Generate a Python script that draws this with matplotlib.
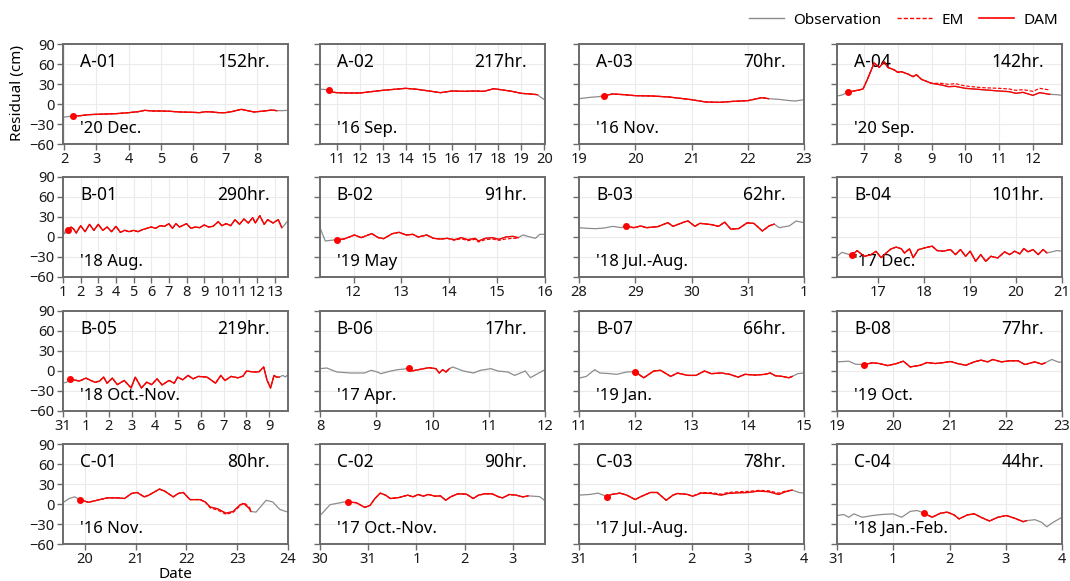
import matplotlib
matplotlib.use("Agg")
import matplotlib.pyplot as plt
from matplotlib.lines import Line2D

plt.rcParams['font.family'] = ['Noto Sans', 'DejaVu Sans']

# ---- data (x in days, y in cm) ----
# each panel: observation before the run, DAM run, observation after; EM where it differs
a01_pre = [(1.96, -20), (2.1, -19)]
a01_dam = [(2.26, -18), (2.5, -17.5), (2.75, -16), (3.0, -15.5), (3.3, -15), (3.6, -14.5), (4.0, -13),
           (4.3, -11.5), (4.5, -9.5), (4.75, -10.5), (5.0, -10.5), (5.3, -11), (5.6, -12), (6.0, -12.5),
           (6.2, -13), (6.4, -11.5), (6.6, -12), (6.8, -13), (7.0, -13), (7.2, -11.5), (7.5, -8), (7.7, -10),
           (7.9, -12), (8.1, -11), (8.3, -10), (8.45, -9), (8.6, -10)]
a01_post = [(8.75, -10), (8.95, -9.5)]

a02_pre = [(10.28, 22), (10.45, 22)]
a02_dam = [(10.66, 20.5), (10.8, 18), (11.0, 17), (11.5, 16.5), (12.0, 16.5), (12.5, 18.5), (13.0, 20.5),
           (13.5, 22), (14.0, 23.5), (14.5, 22), (15.0, 19.5), (15.5, 17), (16.0, 19.5), (16.5, 19),
           (17.0, 19.5), (17.4, 19), (17.8, 23), (18.2, 21), (18.6, 19), (19.0, 16), (19.4, 15), (19.7, 14)]
a02_post = [(19.85, 10), (20.03, 6)]

a03_pre = [(19.0, 8), (19.2, 10), (19.35, 11)]
a03_dam = [(19.45, 12.5), (19.6, 15), (19.8, 14), (20.0, 12.5), (20.3, 12), (20.6, 10.5), (21.0, 6.5),
           (21.25, 3), (21.5, 2.5), (21.75, 4), (22.0, 5), (22.25, 9.5), (22.37, 8)]
a03_post = [(22.55, 7), (22.75, 5), (22.85, 4.5), (23.0, 6.5)]

a04_pre = [(6.2, 12), (6.35, 13.5)]
a04_dam = [(6.53, 18), (6.8, 20.5), (6.97, 22.5), (7.1, 37), (7.3, 61.5), (7.45, 55), (7.6, 63.5), (7.7, 55),
           (7.9, 51), (8.0, 47.5), (8.1, 48.5), (8.3, 45), (8.45, 41), (8.55, 44), (8.7, 37), (9.0, 31),
           (9.3, 28.5), (9.5, 26), (9.7, 26.5), (10.0, 23.5), (10.5, 21.5), (11.0, 19.5), (11.3, 18.5),
           (11.5, 16), (11.7, 17.5), (12.0, 13), (12.2, 17), (12.5, 14.5)]
a04_em = [(6.53, 18), (6.8, 20.5), (6.97, 22.5), (7.1, 37), (7.3, 61.5), (7.45, 55), (7.6, 63.5), (7.7, 55),
          (7.9, 51), (8.0, 47.5), (8.1, 48.5), (8.3, 45), (8.45, 41), (8.55, 44), (8.7, 37), (9.0, 31),
          (9.3, 31), (9.5, 29.5), (9.7, 30.5), (10.0, 27), (10.5, 24.5), (11.0, 23.5), (11.3, 22.5),
          (11.5, 20.5), (11.7, 21.5), (12.0, 19), (12.2, 23.5), (12.5, 21)]
a04_post = [(12.7, 14), (12.86, 13)]

b01_pre = [(1.0, 12), (1.1, 5)]
b01_dam = [(1.3, 10), (1.45, 15), (1.6, 12), (1.75, 6), (2.0, 17), (2.25, 8), (2.5, 19), (2.75, 10), (3.0, 19),
           (3.25, 10), (3.5, 15), (3.75, 8), (4.0, 16), (4.25, 7), (4.5, 10), (4.75, 8), (5.0, 10), (5.25, 8),
           (5.5, 11), (5.75, 13), (6.0, 15), (6.25, 13), (6.5, 17), (6.75, 16), (7.0, 20), (7.2, 13), (7.4, 20),
           (7.6, 15), (8.0, 20), (8.25, 13), (8.5, 15), (8.75, 14), (9.0, 18), (9.25, 15), (9.5, 16), (9.8, 23),
           (10.0, 17), (10.25, 20), (10.5, 17), (10.75, 26), (11.0, 19), (11.25, 27), (11.5, 21), (11.75, 29),
           (11.9, 21), (12.15, 32), (12.4, 19), (12.6, 26), (12.9, 21), (13.2, 26), (13.4, 14)]
b01_post = [(13.55, 18), (13.75, 25)]

b02_pre = [(11.3, 14), (11.41, -6), (11.52, -5)]
b02_dam = [(11.65, -4), (11.8, -3), (12.02, 3), (12.16, -1), (12.38, 5), (12.52, -1), (12.63, -2.5), (12.81, 5),
           (12.95, 7), (13.1, 3), (13.24, 4), (13.35, 0), (13.53, 3), (13.67, -2), (13.82, -3), (13.96, -2),
           (14.11, -4), (14.25, -1), (14.39, -4), (14.54, -2), (14.61, -6), (14.75, -2), (14.9, -1),
           (15.04, -3.5), (15.18, 0), (15.33, 1), (15.44, -1)]
b02_em = [(11.65, -4), (11.8, -3), (12.02, 3), (12.16, -1), (12.38, 5), (12.52, -1), (12.63, -2.5), (12.81, 5),
          (12.95, 7), (13.1, 3), (13.24, 4), (13.35, 0), (13.53, 3), (13.67, -2), (13.82, -3), (13.96, -2),
          (14.11, -5), (14.25, -2.5), (14.39, -5.5), (14.54, -3.5), (14.61, -7.5), (14.75, -4), (14.9, -3),
          (15.04, -5), (15.18, -3), (15.33, -2), (15.44, -2)]
b02_post = [(15.54, 3), (15.69, 0), (15.8, -2), (15.89, 4), (16.0, 4)]

b03_pre = [(28.0, 14), (28.15, 13), (28.3, 12.5), (28.45, 13.5), (28.6, 16), (28.75, 14)]
b03_dam = [(28.84, 16.5), (28.97, 14), (29.1, 16.5), (29.2, 14), (29.4, 15.5), (29.58, 21.5), (29.67, 16),
           (29.88, 22.8), (29.94, 24), (30.06, 16), (30.15, 20.5), (30.36, 18.5), (30.48, 16), (30.59, 22.3),
           (30.7, 11.7), (30.84, 12.7), (30.99, 21.3), (31.11, 20.3), (31.26, 9), (31.38, 16.7), (31.47, 19.3)]
b03_post = [(31.56, 14), (31.74, 16.7), (31.86, 24), (32.0, 21.5)]

b04_pre = [(16.1, -29), (16.21, -23), (16.3, -25)]
b04_dam = [(16.42, -27), (16.54, -20.5), (16.69, -29), (16.84, -26.5), (16.95, -21.5), (17.06, -31),
           (17.17, -24), (17.28, -17.7), (17.39, -15.2), (17.5, -17.7), (17.57, -24), (17.68, -17.7),
           (17.76, -31), (17.87, -19), (18.02, -16.2), (18.17, -13.7), (18.28, -20.3), (18.42, -21.3),
           (18.57, -18.8), (18.68, -26.4), (18.79, -18.8), (18.9, -28.9), (19.0, -21.3), (19.12, -36.5),
           (19.23, -26.4), (19.34, -36.5), (19.45, -28.9), (19.6, -31.4), (19.75, -22.3), (19.86, -26.4),
           (19.97, -21.3), (20.08, -25.3), (20.17, -17.2), (20.26, -22.3), (20.37, -18.8), (20.48, -26.4),
           (20.59, -18.8), (20.67, -23.8)]
b04_post = [(20.78, -22.3), (20.89, -20.3), (21.0, -21.3)]

b05_pre = [(0.0, -18), (0.15, -17)]
b05_dam = [(0.32, -12.7), (0.5, -13.5), (0.72, -15), (1.0, -10.7), (1.2, -14), (1.4, -17), (1.6, -15),
           (1.77, -9), (1.92, -18.3), (2.15, -10.7), (2.37, -20.4), (2.67, -14.2), (2.97, -25.4), (3.15, -9.2),
           (3.42, -25.4), (3.65, -16.8), (3.87, -20.4), (4.1, -11.7), (4.32, -20.9), (4.62, -14.2),
           (4.85, -18.3), (5.0, -9.2), (5.22, -13.2), (5.45, -6.6), (5.67, -11.7), (5.9, -8.1), (6.28, -9.2),
           (6.65, -18.3), (6.88, -6.6), (7.06, -14.2), (7.33, -8.1), (7.63, -10.2), (7.85, -7.6), (8.0, 0),
           (8.2, -1), (8.38, -1.5), (8.55, -1), (8.75, 6), (8.9, -14.2), (9.05, -25.4), (9.2, -6.6),
           (9.3, -9), (9.43, -9.2)]
b05_post = [(9.58, -6.6), (9.7, -9), (9.81, -5)]

b06_pre = [(8.0, 3.5), (8.12, 4.5), (8.3, -1.5), (8.55, -3), (8.79, -3), (8.91, 1), (9.02, -1.5), (9.08, -4),
           (9.26, 0), (9.38, 2), (9.5, 3)]
b06_dam = [(9.58, 4.6), (9.63, 0), (9.75, 2), (9.94, 5), (10.06, 3.5), (10.12, -3), (10.18, 2), (10.24, -1.5),
           (10.3, 3.5)]
b06_post = [(10.36, 6), (10.55, 0), (10.73, -3), (10.85, 1), (11.04, 3.5), (11.16, 0), (11.34, -1.5),
            (11.46, -6.6), (11.65, 0), (11.74, -10), (11.87, -4), (12.0, 2)]

b07_pre = [(11.0, -10.7), (11.13, -8.1), (11.28, 2), (11.37, -3), (11.55, -4), (11.67, -5), (11.85, -1.5)]
b07_dam = [(12.0, -1), (12.09, -6.6), (12.15, -10.2), (12.33, 0), (12.45, 1), (12.63, -8.1), (12.75, -3),
           (12.93, -6.6), (13.08, -6.6), (13.23, 0), (13.35, -4), (13.53, -3), (13.68, -5), (13.83, -9.2),
           (13.95, -5), (14.13, -6.1), (14.31, -5), (14.4, -3), (14.49, -7.1), (14.61, -8.1), (14.73, -10.2),
           (14.79, -8.1)]
b07_post = [(14.89, -4), (15.0, -3)]

b08_pre = [(19.0, 13.7), (19.21, 14.7), (19.33, 10.2)]
b08_dam = [(19.48, 9.7), (19.63, 12.2), (19.75, 11.2), (19.9, 8.1), (20.06, 11.2), (20.18, 14.7), (20.3, 6.1),
           (20.48, 8.6), (20.6, 12.7), (20.75, 11.2), (20.9, 12.7), (21.02, 14.2), (21.14, 11.2), (21.29, 8.6),
           (21.44, 13.7), (21.56, 16.3), (21.68, 13.7), (21.77, 17.3), (21.92, 13.7), (22.07, 15.3),
           (22.22, 15.3), (22.34, 9.7), (22.52, 13.7), (22.64, 10.2), (22.7, 12.2)]
b08_post = [(22.82, 17.3), (22.94, 13.2), (23.0, 13.2)]

c01_pre = [(19.57, 2), (19.69, 8.2), (19.8, 10.7)]
c01_dam = [(19.9, 6.6), (20.07, 2.6), (20.24, 5.6), (20.44, 9.2), (20.65, 9.2), (20.78, 8.2), (20.92, 15.8),
           (21.03, 17.3), (21.17, 10.7), (21.26, 13.3), (21.47, 22.4), (21.57, 19.4), (21.74, 10.7),
           (21.84, 15.8), (21.94, 17.3), (22.07, 6.6), (22.27, 6.6), (22.37, 3), (22.47, -4.6), (22.61, -7.1),
           (22.78, -13.8), (22.92, -11.2), (23.06, -1), (23.13, 0.5), (23.23, -6.1), (23.27, -11.2)]
c01_em = [(19.9, 6.6), (20.07, 2.6), (20.24, 5.6), (20.44, 9.2), (20.65, 9.2), (20.78, 8.2), (20.92, 15.8),
          (21.03, 17.3), (21.17, 10.7), (21.26, 13.3), (21.47, 22.4), (21.57, 19.4), (21.74, 10.7),
          (21.84, 15.8), (21.94, 17.3), (22.07, 6.6), (22.27, 6.6), (22.37, 3), (22.47, -6), (22.61, -9),
          (22.78, -15.5), (22.92, -12.5), (23.06, -2.5), (23.13, 2), (23.23, -4), (23.27, -9)]
c01_post = [(23.37, -12.2), (23.57, 5.6), (23.7, 3), (23.84, -8.2), (24.0, -12.2)]

c02_pre = [(30.0, -17.3), (30.1, -9.7), (30.21, -1), (30.43, 2), (30.5, 3)]
c02_dam = [(30.59, 3), (30.75, 2), (30.93, -5.1), (31.04, -2), (31.14, 8.2), (31.25, 16.3), (31.36, 13.3),
           (31.46, 8.2), (31.64, 9.7), (31.82, 13.3), (31.93, 10.7), (32.04, 14.3), (32.14, 11.7),
           (32.25, 14.3), (32.39, 11.7), (32.5, 12.2), (32.61, 5.6), (32.71, 10.7), (32.86, 15.3),
           (33.04, 14.8), (33.18, 8.2), (33.29, 13.3), (33.43, 15.3), (33.57, 15.3), (33.71, 10.7),
           (33.79, 9.2), (33.93, 14.3), (34.07, 13.3), (34.21, 10.7), (34.32, 12.2)]
c02_post = [(34.43, 11.7), (34.56, 11), (34.67, 5)]

c03_pre = [(31.0, 13.3), (31.19, 14.3), (31.34, 16.3), (31.43, 13.3)]
c03_dam = [(31.49, 11.2), (31.58, 14.3), (31.73, 16.3), (31.85, 13.3), (32.0, 6.6), (32.09, 10.7),
           (32.27, 17.3), (32.39, 17.3), (32.55, 5.6), (32.67, 13.3), (32.75, 15.8), (32.93, 14.3),
           (33.02, 11.7), (33.17, 16.3), (33.35, 15.8), (33.53, 13.3), (33.65, 15.8), (33.83, 16.8),
           (34.01, 17.3), (34.19, 19.4), (34.37, 18.4), (34.55, 14.3), (34.67, 18.4), (34.79, 20.9)]
c03_em = [(31.49, 11.2), (31.58, 14.3), (31.73, 16.3), (31.85, 13.3), (32.0, 6.6), (32.09, 10.7),
          (32.27, 17.3), (32.39, 17.3), (32.55, 5.6), (32.67, 13.3), (32.75, 15.8), (32.93, 14.3),
          (33.02, 11.7), (33.17, 17.3), (33.35, 17), (33.53, 14.8), (33.65, 17.3), (33.83, 18.4),
          (34.01, 19), (34.19, 20.4), (34.37, 19.9), (34.55, 16.3), (34.67, 19.4), (34.79, 20.9)]
c03_post = [(34.91, 17.3), (35.0, 16.3)]

c04_pre = [(31.0, -17.3), (31.12, -15.8), (31.21, -19.9), (31.3, -14.8), (31.45, -19.9), (31.63, -17.3),
           (31.79, -15.8), (32.0, -14.8), (32.15, -19.9), (32.3, -11.2), (32.42, -9.7)]
c04_dam = [(32.54, -13.3), (32.69, -19.9), (32.84, -13.8), (32.96, -12.2), (33.08, -16.3), (33.17, -22.4),
           (33.32, -16.3), (33.44, -14.8), (33.56, -19.9), (33.71, -25.5), (33.86, -19.9), (34.01, -17.3),
           (34.16, -21.4), (34.31, -26.5), (34.37, -25)]
c04_post = [(34.52, -23.5), (34.64, -27.6), (34.73, -34.2), (34.82, -28.6), (35.0, -19.9)]

names = ['A-01', 'A-02', 'A-03', 'A-04', 'B-01', 'B-02', 'B-03', 'B-04',
         'B-05', 'B-06', 'B-07', 'B-08', 'C-01', 'C-02', 'C-03', 'C-04']
hours = ['152hr.', '217hr.', '70hr.', '142hr.', '290hr.', '91hr.', '62hr.', '101hr.',
         '219hr.', '17hr.', '66hr.', '77hr.', '80hr.', '90hr.', '78hr.', '44hr.']
periods = ["'20 Dec.", "'16 Sep.", "'16 Nov.", "'20 Sep.", "'18 Aug.", "'19 May", "'18 Jul.-Aug.", "'17 Dec.",
           "'18 Oct.-Nov.", "'17 Apr.", "'19 Jan.", "'19 Oct.", "'16 Nov.", "'17 Oct.-Nov.", "'17 Jul.-Aug.",
           "'18 Jan.-Feb."]
xlims = [(1.96, 8.95), (10.28, 20.03), (19, 23), (6.2, 12.86), (1, 13.75), (11.3, 16.0), (28, 32), (16.1, 21),
         (0, 9.81), (8, 12), (11, 15), (19, 23), (19.57, 24), (30, 34.67), (31, 35), (31, 35)]
xticks = [list(range(2, 9)), list(range(11, 21)), list(range(19, 24)), list(range(7, 13)),
          list(range(1, 14)), list(range(12, 17)), list(range(28, 33)), list(range(17, 22)),
          list(range(0, 10)), list(range(8, 13)), list(range(11, 16)), list(range(19, 24)),
          list(range(20, 25)), list(range(30, 35)), list(range(31, 36)), list(range(31, 36))]
xticklabels = [None, None, None, None, None, None, ['28', '29', '30', '31', '1'], None,
               ['31', '1', '2', '3', '4', '5', '6', '7', '8', '9'], None, None, None,
               None, ['30', '31', '1', '2', '3'], ['31', '1', '2', '3', '4'], ['31', '1', '2', '3', '4']]

pre = [a01_pre, a02_pre, a03_pre, a04_pre, b01_pre, b02_pre, b03_pre, b04_pre,
       b05_pre, b06_pre, b07_pre, b08_pre, c01_pre, c02_pre, c03_pre, c04_pre]
dam = [a01_dam, a02_dam, a03_dam, a04_dam, b01_dam, b02_dam, b03_dam, b04_dam,
       b05_dam, b06_dam, b07_dam, b08_dam, c01_dam, c02_dam, c03_dam, c04_dam]
post = [a01_post, a02_post, a03_post, a04_post, b01_post, b02_post, b03_post, b04_post,
        b05_post, b06_post, b07_post, b08_post, c01_post, c02_post, c03_post, c04_post]
em = [a01_dam, a02_dam, a03_dam, a04_em, b01_dam, b02_em, b03_dam, b04_dam,
      b05_dam, b06_dam, b07_dam, b08_dam, c01_em, c02_dam, c03_em, c04_dam]

# ---- figure ----
W, H = 1070, 581
fig = plt.figure(figsize=(W / 100, H / 100), dpi=100)

col_left = [63, 320, 579, 837]
row_top = [44, 177, 311, 444]
ax_w, ax_h = 225, 100
spine_col = '#6b6b6b'

for i in range(16):
    r, c = divmod(i, 4)
    ax = fig.add_axes([col_left[c] / W, 1 - (row_top[r] + ax_h) / H, ax_w / W, ax_h / H])
    obs = pre[i] + dam[i] + post[i]
    ax.plot([p[0] for p in obs], [p[1] for p in obs], color='#8c8c8c', lw=0.9, zorder=2)
    ax.plot([p[0] for p in em[i]], [p[1] for p in em[i]], color='red', lw=0.85, ls=(0, (3, 1.5)), zorder=3)
    ax.plot([p[0] for p in dam[i]], [p[1] for p in dam[i]], color='red', lw=0.95, zorder=4)
    ax.plot(dam[i][0][0], dam[i][0][1], 'o', color='red', ms=4, zorder=5)

    ax.set_xlim(*xlims[i])
    ax.set_ylim(-60, 90)
    ax.set_yticks(range(-60, 91, 30))
    ax.set_xticks(xticks[i])
    if xticklabels[i] is not None:
        ax.set_xticklabels(xticklabels[i])
    if c > 0:
        ax.set_yticklabels([])
    ax.grid(True, color='#ebebeb', lw=0.8, zorder=0)
    ax.set_axisbelow(True)
    for s in ax.spines.values():
        s.set_color(spine_col)
        s.set_linewidth(1.4)
    ax.tick_params(direction='out', length=4, width=1.0, color=spine_col, labelsize=10.5, pad=2,
                   labelcolor='#1a1a1a')

    ax.text(0.075, 0.82, names[i], transform=ax.transAxes, fontsize=12.5, va='center', ha='left')
    ax.text(0.92, 0.82, hours[i], transform=ax.transAxes, fontsize=12.5, va='center', ha='right')
    ax.text(0.075, 0.15, periods[i], transform=ax.transAxes, fontsize=12, va='center', ha='left')

fig.text(18 / W, 1 - 93 / H, 'Residual (cm)', rotation=90, ha='center', va='center', fontsize=11)
fig.text(175 / W, 1 - 575 / H, 'Date', ha='center', va='center', fontsize=11)

handles = [Line2D([], [], color='#8c8c8c', lw=1.0),
           Line2D([], [], color='red', lw=1.0, ls=(0, (3, 1.5))),
           Line2D([], [], color='red', lw=1.2)]
fig.legend(handles, ['Observation', 'EM', 'DAM'], loc='center right', bbox_to_anchor=(1064 / W, 1 - 20 / H),
           ncol=3, frameon=False, fontsize=11, handlelength=2.3, handletextpad=0.6, columnspacing=1.0,
           borderaxespad=0)

fig.savefig('out.png', dpi=100)
